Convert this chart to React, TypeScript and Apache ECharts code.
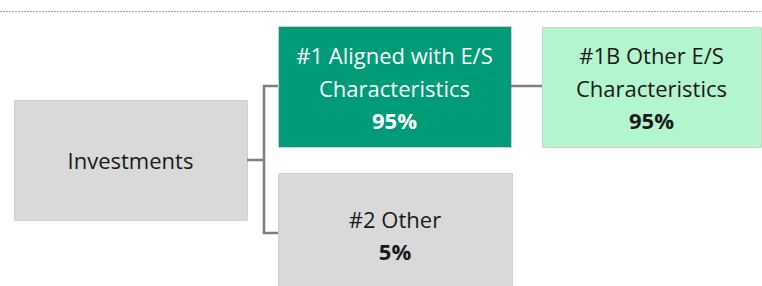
import React, { useEffect, useRef } from "react";
import * as echarts from "echarts";

const rootLabel = "Investments";
const level1Labels = [["#1 Aligned with E/S", "Characteristics"], ["#2 Other"]];
const level1Values = ["95%", "5%"];
const level2Labels = [["#1B Other E/S", "Characteristics"]];
const level2Values = ["95%"];

const FONT = '"Open Sans", sans-serif';
const FS = 22;
const LH = 32.5;
const GREY = "#d9d9d9";
const GREEN = "#009b77";
const LIGHT = "#b3f5cc";
const BORDER = "#cfcfcf";
const LINE = "#7f7f7f";
const TXT = "#1a1a1a";

function textLines(lines: string[], value: string, cx: number, cy: number, color: string) {
  const all = [...lines.map((t) => ({ t, bold: false })), { t: value, bold: true }];
  const n = all.length;
  return all.map((l, i) => ({
    type: "text",
    style: {
      text: l.t,
      x: cx,
      y: cy + (i - (n - 1) / 2) * LH,
      align: "center",
      verticalAlign: "middle",
      font: `${l.bold ? "bold " : ""}${FS}px ${FONT}`,
      fill: color,
    },
  }));
}

export default function App() {
  const ref = useRef<HTMLDivElement>(null);
  useEffect(() => {
    document.body.style.margin = "0";
    const chart = echarts.init(ref.current!, null, { renderer: "svg" });
    const boxes = [
      { x: 14, y: 100, w: 233, h: 120, fill: GREY },
      { x: 278, y: 26, w: 233, h: 121, fill: GREEN },
      { x: 278, y: 173, w: 234, h: 124, fill: GREY },
      { x: 542, y: 27, w: 219, h: 120, fill: LIGHT },
    ];
    const elements: any[] = [
      {
        type: "line",
        shape: { x1: 0, y1: 11.5, x2: 762, y2: 11.5 },
        style: { stroke: "#a6a6a6", lineWidth: 1, lineDash: [2, 1] },
      },
      ...boxes.map((b) => ({
        type: "rect",
        shape: { x: b.x + 0.5, y: b.y + 0.5, width: b.w, height: b.h },
        style: { fill: b.fill, stroke: BORDER, lineWidth: 1 },
      })),
      {
        type: "polyline",
        shape: { points: [[247, 160], [264, 160]] },
        style: { stroke: LINE, lineWidth: 2.5, fill: null },
      },
      {
        type: "polyline",
        shape: { points: [[278, 86], [264, 86], [264, 233], [278, 233]] },
        style: { stroke: LINE, lineWidth: 2.5, fill: null },
      },
      {
        type: "polyline",
        shape: { points: [[511, 86], [542, 86]] },
        style: { stroke: LINE, lineWidth: 2.5, fill: null },
      },
      {
        type: "text",
        style: {
          text: rootLabel,
          x: 130.5,
          y: 160,
          align: "center",
          verticalAlign: "middle",
          font: `${FS}px ${FONT}`,
          fill: TXT,
        },
      },
      ...textLines(level1Labels[0], level1Values[0], 394.5, 87.5, "#ffffff"),
      ...textLines(level1Labels[1], level1Values[1], 395, 235, TXT),
      ...textLines(level2Labels[0], level2Values[0], 651.5, 87.5, TXT),
    ];
    chart.setOption({ animation: false, graphic: { elements } });
    return () => chart.dispose();
  }, []);
  return <div ref={ref} style={{ width: 762, height: 286 }} />;
}
